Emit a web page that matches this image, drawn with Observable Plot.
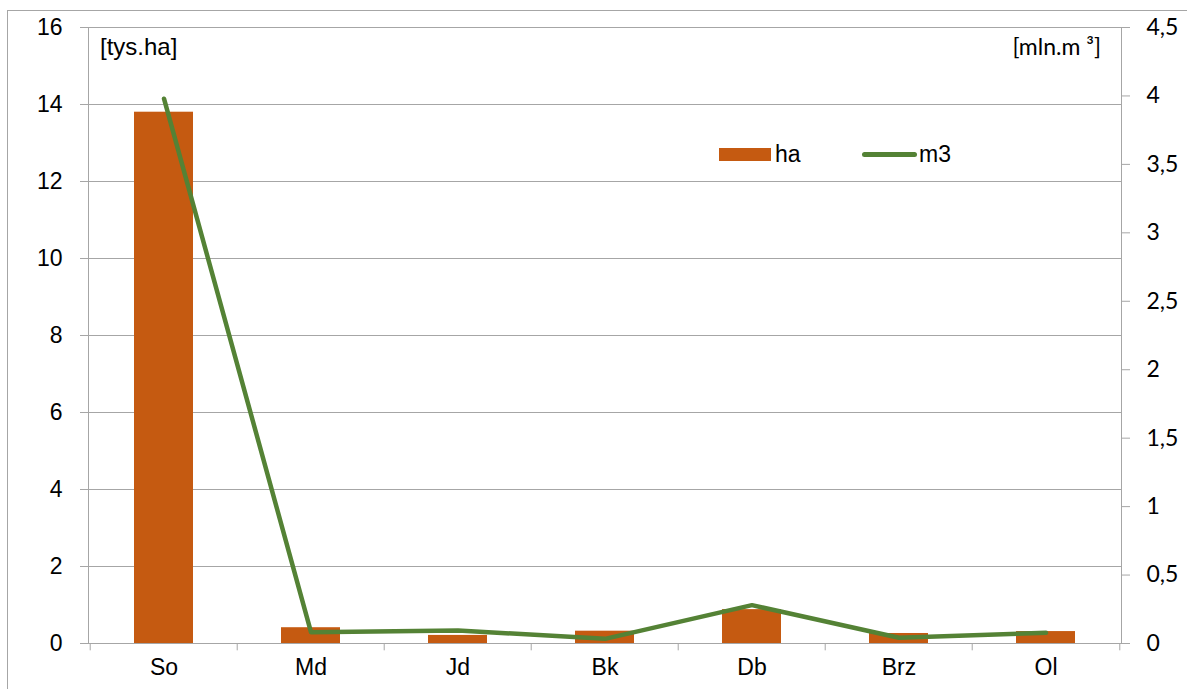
<!DOCTYPE html>
<html>
<head>
<meta charset="utf-8">
<script src="https://cdn.jsdelivr.net/npm/d3@7"></script>
<script src="https://cdn.jsdelivr.net/npm/@observablehq/plot@0.6"></script>
<style>
  html, body { margin: 0; padding: 0; background: #fff; overflow: hidden; }
  #wrap { position: relative; width: 1187px; height: 689px; font-family: "Liberation Sans", Arial, sans-serif; color: #000; }
  #wrap svg { position: absolute; left: 0; top: 0; }
  .border { position: absolute; left: 7px; top: 10px; width: 1300px; height: 800px; border: 1px solid #A6A6A6; box-sizing: border-box; }
  .lbl { position: absolute; font-size: 23px; line-height: 1; white-space: nowrap; }
  .sw-bar { position: absolute; background: #C55A11; }
  .sw-line { position: absolute; background: #548235; border-radius: 3px; }
</style>
</head>
<body>
<div id="wrap">
  <div class="border"></div>
</div>
<script>
// Data
const categories = ["So", "Md", "Jd", "Bk", "Db", "Brz", "Ol"];
const haValues = [13.8, 0.41, 0.21, 0.32, 0.88, 0.26, 0.31];      // left axis [tys.ha]
const m3Values = [3.98, 0.083, 0.095, 0.034, 0.28, 0.042, 0.078]; // right axis [mln.m3]
const leftTicks = [0, 2, 4, 6, 8, 10, 12, 14, 16];
const rightTicks = [0, 0.5, 1, 1.5, 2, 2.5, 3, 3.5, 4, 4.5];
const leftMax = 16, rightMax = 4.5;
const k = leftMax / rightMax;

const W = 1187, H = 689;
const margin = {left: 88, right: 66, top: 27, bottom: 46};
const step = (W - margin.left - margin.right) / categories.length;

const data = categories.map((c, i) => ({cat: c, ha: haValues[i], m3: m3Values[i], m3s: m3Values[i] * k}));
const fmt = v => String(v).replace(".", ",");

const chart = Plot.plot({
  width: W,
  height: H,
  marginLeft: margin.left,
  marginRight: margin.right,
  marginTop: margin.top,
  marginBottom: margin.bottom,
  style: {background: "transparent", color: "#000", overflow: "visible"},
  x: {domain: categories, paddingInner: 0.6, paddingOuter: 0.3},
  y: {domain: [0, leftMax]},
  marks: [
    Plot.gridY(leftTicks.filter(t => t > 0 && t < leftMax), {stroke: "#A6A6A6", strokeOpacity: 1, strokeWidth: 1}),
    Plot.frame({stroke: "#A6A6A6", strokeWidth: 1}),
    Plot.ruleX(categories, {x: d => d, y1: 0, y2: -0.19, dx: -step / 2, stroke: "#A6A6A6"}),
    Plot.ruleX(categories.slice(-1), {x: d => d, y1: 0, y2: -0.19, dx: step / 2, stroke: "#A6A6A6"}),
    Plot.barY(data, {x: "cat", y: "ha", fill: "#C55A11"}),
    Plot.line(data, {x: "cat", y: "m3s", stroke: "#548235", strokeWidth: 4.5, strokeLinejoin: "round"}),
    Plot.axisY({ticks: leftTicks, anchor: "left", tickSize: 8, tickPadding: 18, stroke: "#A6A6A6", label: null,
      fontSize: 23, fontFamily: "Liberation Sans, Arial, sans-serif", fill: "#000"}),
    Plot.axisY({ticks: rightTicks.map(v => v * k), anchor: "right", tickSize: 8, tickPadding: 17, stroke: "#A6A6A6", label: null,
      tickFormat: d => fmt(+(d / k).toFixed(2)), fontSize: 23, fontFamily: "Lato, 'Open Sans', sans-serif", fill: "#000"}),
    Plot.axisX({tickSize: 0, tickPadding: 15, label: null, fontSize: 23, fontFamily: "Liberation Sans, Arial, sans-serif", fill: "#000"})
  ]
});

const wrap = document.getElementById("wrap");
wrap.appendChild(chart);

function addLabel(text, css) {
  const d = document.createElement("div");
  d.className = "lbl";
  d.textContent = text;
  Object.assign(d.style, css);
  wrap.appendChild(d);
  return d;
}
addLabel("[tys.ha]", {left: "100px", top: "35px", fontSize: "24px"});
addLabel("[mln.m ³]", {right: (W - 1101) + "px", top: "35px", fontFamily: "Lato, 'Open Sans', sans-serif", fontSize: "23px"});

// Legend
const sb = document.createElement("div");
sb.className = "sw-bar";
Object.assign(sb.style, {left: "719px", top: "148px", width: "52px", height: "13px"});
wrap.appendChild(sb);
addLabel("ha", {left: "775px", top: "143px"});
const sl = document.createElement("div");
sl.className = "sw-line";
Object.assign(sl.style, {left: "862px", top: "152px", width: "55px", height: "5px"});
wrap.appendChild(sl);
addLabel("m3", {left: "919px", top: "143px"});
</script>
</body>
</html>
